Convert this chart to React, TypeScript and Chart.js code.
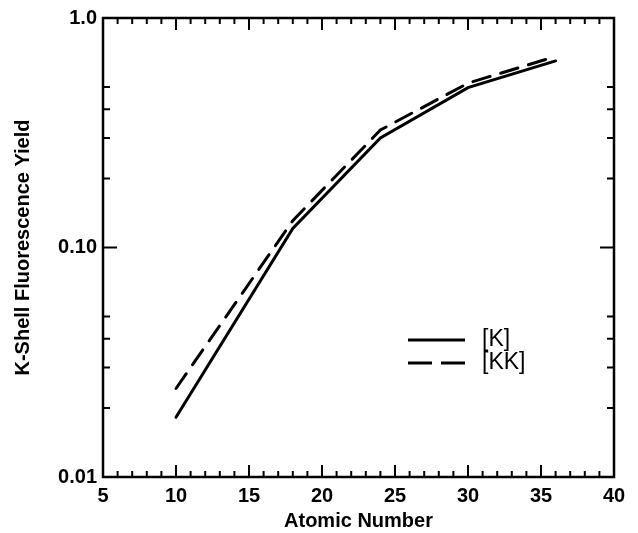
import React, { useEffect, useRef } from "react";
import { Chart, registerables } from "chart.js";

Chart.register(...registerables);

// ---- data ----
const atomicNumbers = [10, 18, 24, 30, 36];
const yieldK = [0.0182, 0.121, 0.3, 0.497, 0.65];
const yieldKK = [0.0243, 0.131, 0.325, 0.52, 0.68];
const seriesNames = ["[K]", "[KK]"];

const xTickValues = [5, 10, 15, 20, 25, 30, 35, 40];
const yTickValues = [0.01, 0.1, 1.0];
const yTickLabels = ["0.01", "0.10", "1.0"];
const yMinorValues = [0.02, 0.03, 0.04, 0.05, 0.2, 0.3, 0.4, 0.5];
const xMinorValues: number[] = [];
for (let v = 5; v <= 40; v++) if (v % 5 !== 0) xMinorValues.push(v);

const FONT = '"Liberation Sans", Arial, Helvetica, sans-serif';

const frameTicksPlugin = {
  id: "frameTicks",
  afterDatasetsDraw(chart: any) {
    const { ctx, chartArea } = chart;
    const { left, right, top, bottom } = chartArea;
    const x = chart.scales.x;
    const y = chart.scales.y;
    ctx.save();
    ctx.strokeStyle = "#000";
    ctx.lineCap = "butt";
    ctx.lineWidth = 2;
    const vTick = (px: number, len: number) => {
      ctx.beginPath();
      ctx.moveTo(px, bottom);
      ctx.lineTo(px, bottom - len);
      ctx.moveTo(px, top);
      ctx.lineTo(px, top + len);
      ctx.stroke();
    };
    const hTick = (py: number, len: number) => {
      ctx.beginPath();
      ctx.moveTo(left, py);
      ctx.lineTo(left + len, py);
      ctx.moveTo(right, py);
      ctx.lineTo(right - len, py);
      ctx.stroke();
    };
    xMinorValues.forEach((v) => vTick(x.getPixelForValue(v), 6));
    xTickValues.forEach((v) => vTick(x.getPixelForValue(v), 12));
    yMinorValues.forEach((v) => hTick(y.getPixelForValue(v), 7));
    yTickValues.forEach((v) => hTick(y.getPixelForValue(v), 14));

    ctx.lineWidth = 2.5;
    ctx.strokeRect(left, top, right - left, bottom - top);

    // legend
    const lx = left + 305;
    const tx = left + 379;
    const rows = [top + 322, top + 345];
    ctx.lineWidth = 3;
    ctx.beginPath();
    ctx.moveTo(lx, rows[0]);
    ctx.lineTo(lx + 57, rows[0]);
    ctx.stroke();
    ctx.setLineDash([24, 9]);
    ctx.beginPath();
    ctx.moveTo(lx, rows[1]);
    ctx.lineTo(lx + 57, rows[1]);
    ctx.stroke();
    ctx.setLineDash([]);
    ctx.fillStyle = "#000";
    ctx.font = `23px ${FONT}`;
    ctx.textAlign = "left";
    ctx.textBaseline = "middle";
    ctx.fillText(seriesNames[0], tx, rows[0]);
    ctx.fillText(seriesNames[1], tx, rows[1]);
    ctx.restore();
  },
};

export default function App() {
  const canvasRef = useRef<HTMLCanvasElement | null>(null);

  useEffect(() => {
    const canvas = canvasRef.current;
    if (!canvas) return;
    const chart = new Chart(canvas, {
      type: "line",
      data: {
        datasets: [
          {
            label: seriesNames[0],
            data: atomicNumbers.map((z, i) => ({ x: z, y: yieldK[i] })),
            borderColor: "#000",
            borderWidth: 3,
            pointRadius: 0,
            fill: false,
            tension: 0,
            borderCapStyle: "round",
          },
          {
            label: seriesNames[1],
            data: atomicNumbers.map((z, i) => ({ x: z, y: yieldKK[i] })),
            borderColor: "#000",
            borderWidth: 3,
            borderDash: [18, 11],
            pointRadius: 0,
            fill: false,
            tension: 0,
            borderCapStyle: "round",
          },
        ],
      },
      options: {
        animation: false,
        responsive: false,
        maintainAspectRatio: false,
        layout: { padding: { top: 15, right: 24, left: 0, bottom: 0 } },
        plugins: { legend: { display: false }, tooltip: { enabled: false } },
        scales: {
          x: {
            type: "linear",
            min: 5,
            max: 40,
            afterBuildTicks: (s: any) => {
              s.ticks = xTickValues.map((v) => ({ value: v }));
            },
            afterFit: (s: any) => {
              s.height = 56;
            },
            grid: { display: false, drawTicks: false, tickLength: 0 },
            border: { display: false },
            ticks: {
              autoSkip: false,
              maxRotation: 0,
              padding: 7,
              color: "#000",
              font: { family: FONT, size: 20, weight: "bold" },
              callback: (v: any) => String(v),
            },
            title: {
              display: true,
              text: "Atomic Number",
              color: "#000",
              font: { family: FONT, size: 20, weight: "bold" },
              padding: { top: 0, bottom: 0 },
            },
          },
          y: {
            type: "logarithmic",
            min: 0.01,
            max: 1,
            afterBuildTicks: (s: any) => {
              s.ticks = yTickValues.map((v) => ({ value: v }));
            },
            afterFit: (s: any) => {
              s.width = 103;
            },
            grid: { display: false, drawTicks: false, tickLength: 0 },
            border: { display: false },
            ticks: {
              autoSkip: false,
              padding: 6,
              color: "#000",
              font: { family: FONT, size: 20, weight: "bold" },
              callback: (v: any) => {
                const i = yTickValues.findIndex((t) => Math.abs(t - v) < 1e-9);
                return i >= 0 ? yTickLabels[i] : "";
              },
            },
            title: {
              display: true,
              text: "K-Shell Fluorescence Yield",
              color: "#000",
              font: { family: FONT, size: 20, weight: "bold" },
              padding: { top: 11, bottom: 0 },
            },
          },
        },
      },
      plugins: [frameTicksPlugin],
    });
    return () => chart.destroy();
  }, []);

  return (
    <div style={{ position: "fixed", left: 0, top: 0, width: 638, height: 533, background: "#fff" }}>
      <canvas ref={canvasRef} width={638} height={533} style={{ display: "block", width: 638, height: 533 }} />
    </div>
  );
}
